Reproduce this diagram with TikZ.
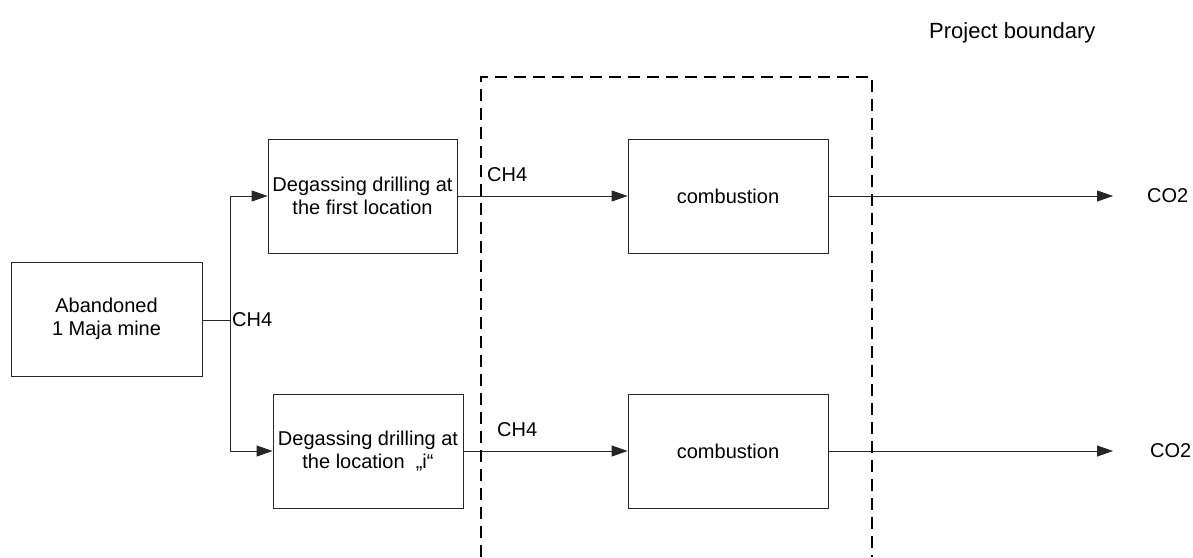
\documentclass[tikz,border=0pt]{standalone}
\usepackage{fontspec}
\setmainfont{Liberation Sans}
\usetikzlibrary{arrows.meta}
\begin{document}
\begin{tikzpicture}[x=1pt,y=-1pt,
  box/.style={draw=black!85,line width=0.8pt,minimum height=114pt,inner sep=0pt,align=center,font=\fontsize{20}{23}\selectfont},
  lbl/.style={inner sep=0pt,font=\fontsize{20}{23}\selectfont},
  flow/.style={draw=black!85,line width=0.8pt},
  arr/.style={flow,-{Triangle[length=16pt,width=11pt]}},
  boundary/.style={draw=black,line width=1.8pt,dash pattern=on 12pt off 7pt}]
\useasboundingbox (0,0) rectangle (1193,557);
\node[box,minimum width=191pt] (mine) at (106.5,319) {Abandoned\\1 Maja mine};
\node[box,minimum width=189pt] (d1) at (362.5,196) {Degassing drilling at\\the first location};
\node[box,minimum width=190pt] (d2) at (368,451) {Degassing drilling at\\the location \ ,,i``};
\node[box,minimum width=200pt] (c1) at (728,196) {combustion};
\node[box,minimum width=200pt] (c2) at (728,451) {combustion};
\coordinate (split) at (230,320);
\coordinate (o1) at (1113,196);
\coordinate (o2) at (1113,451);
\draw[flow] (mine.east |- split) -- (split);
\draw[arr] (split) |- (d1.west);
\draw[arr] (split) |- (d2.west);
\draw[arr] (d1.east) -- (c1.west);
\draw[arr] (d2.east) -- (c2.west);
\draw[arr] (c1.east) -- (o1);
\draw[arr] (c2.east) -- (o2);
\node[lbl,anchor=west] (m1) at (232,320) {CH4};
\node[lbl,anchor=west] (m2) at (487,175) {CH4};
\node[lbl,anchor=west] (m3) at (497,430) {CH4};
\node[lbl,anchor=west] (co1) at (1147,196) {CO2};
\node[lbl,anchor=west] (co2) at (1150,451) {CO2};
\node[lbl,anchor=west,font=\fontsize{22}{26}\selectfont] (pb) at (929,33) {Project boundary};
\draw[boundary] (481,557) -- (481,77) -- (872,77) -- (872,557);
\end{tikzpicture}
\end{document}
